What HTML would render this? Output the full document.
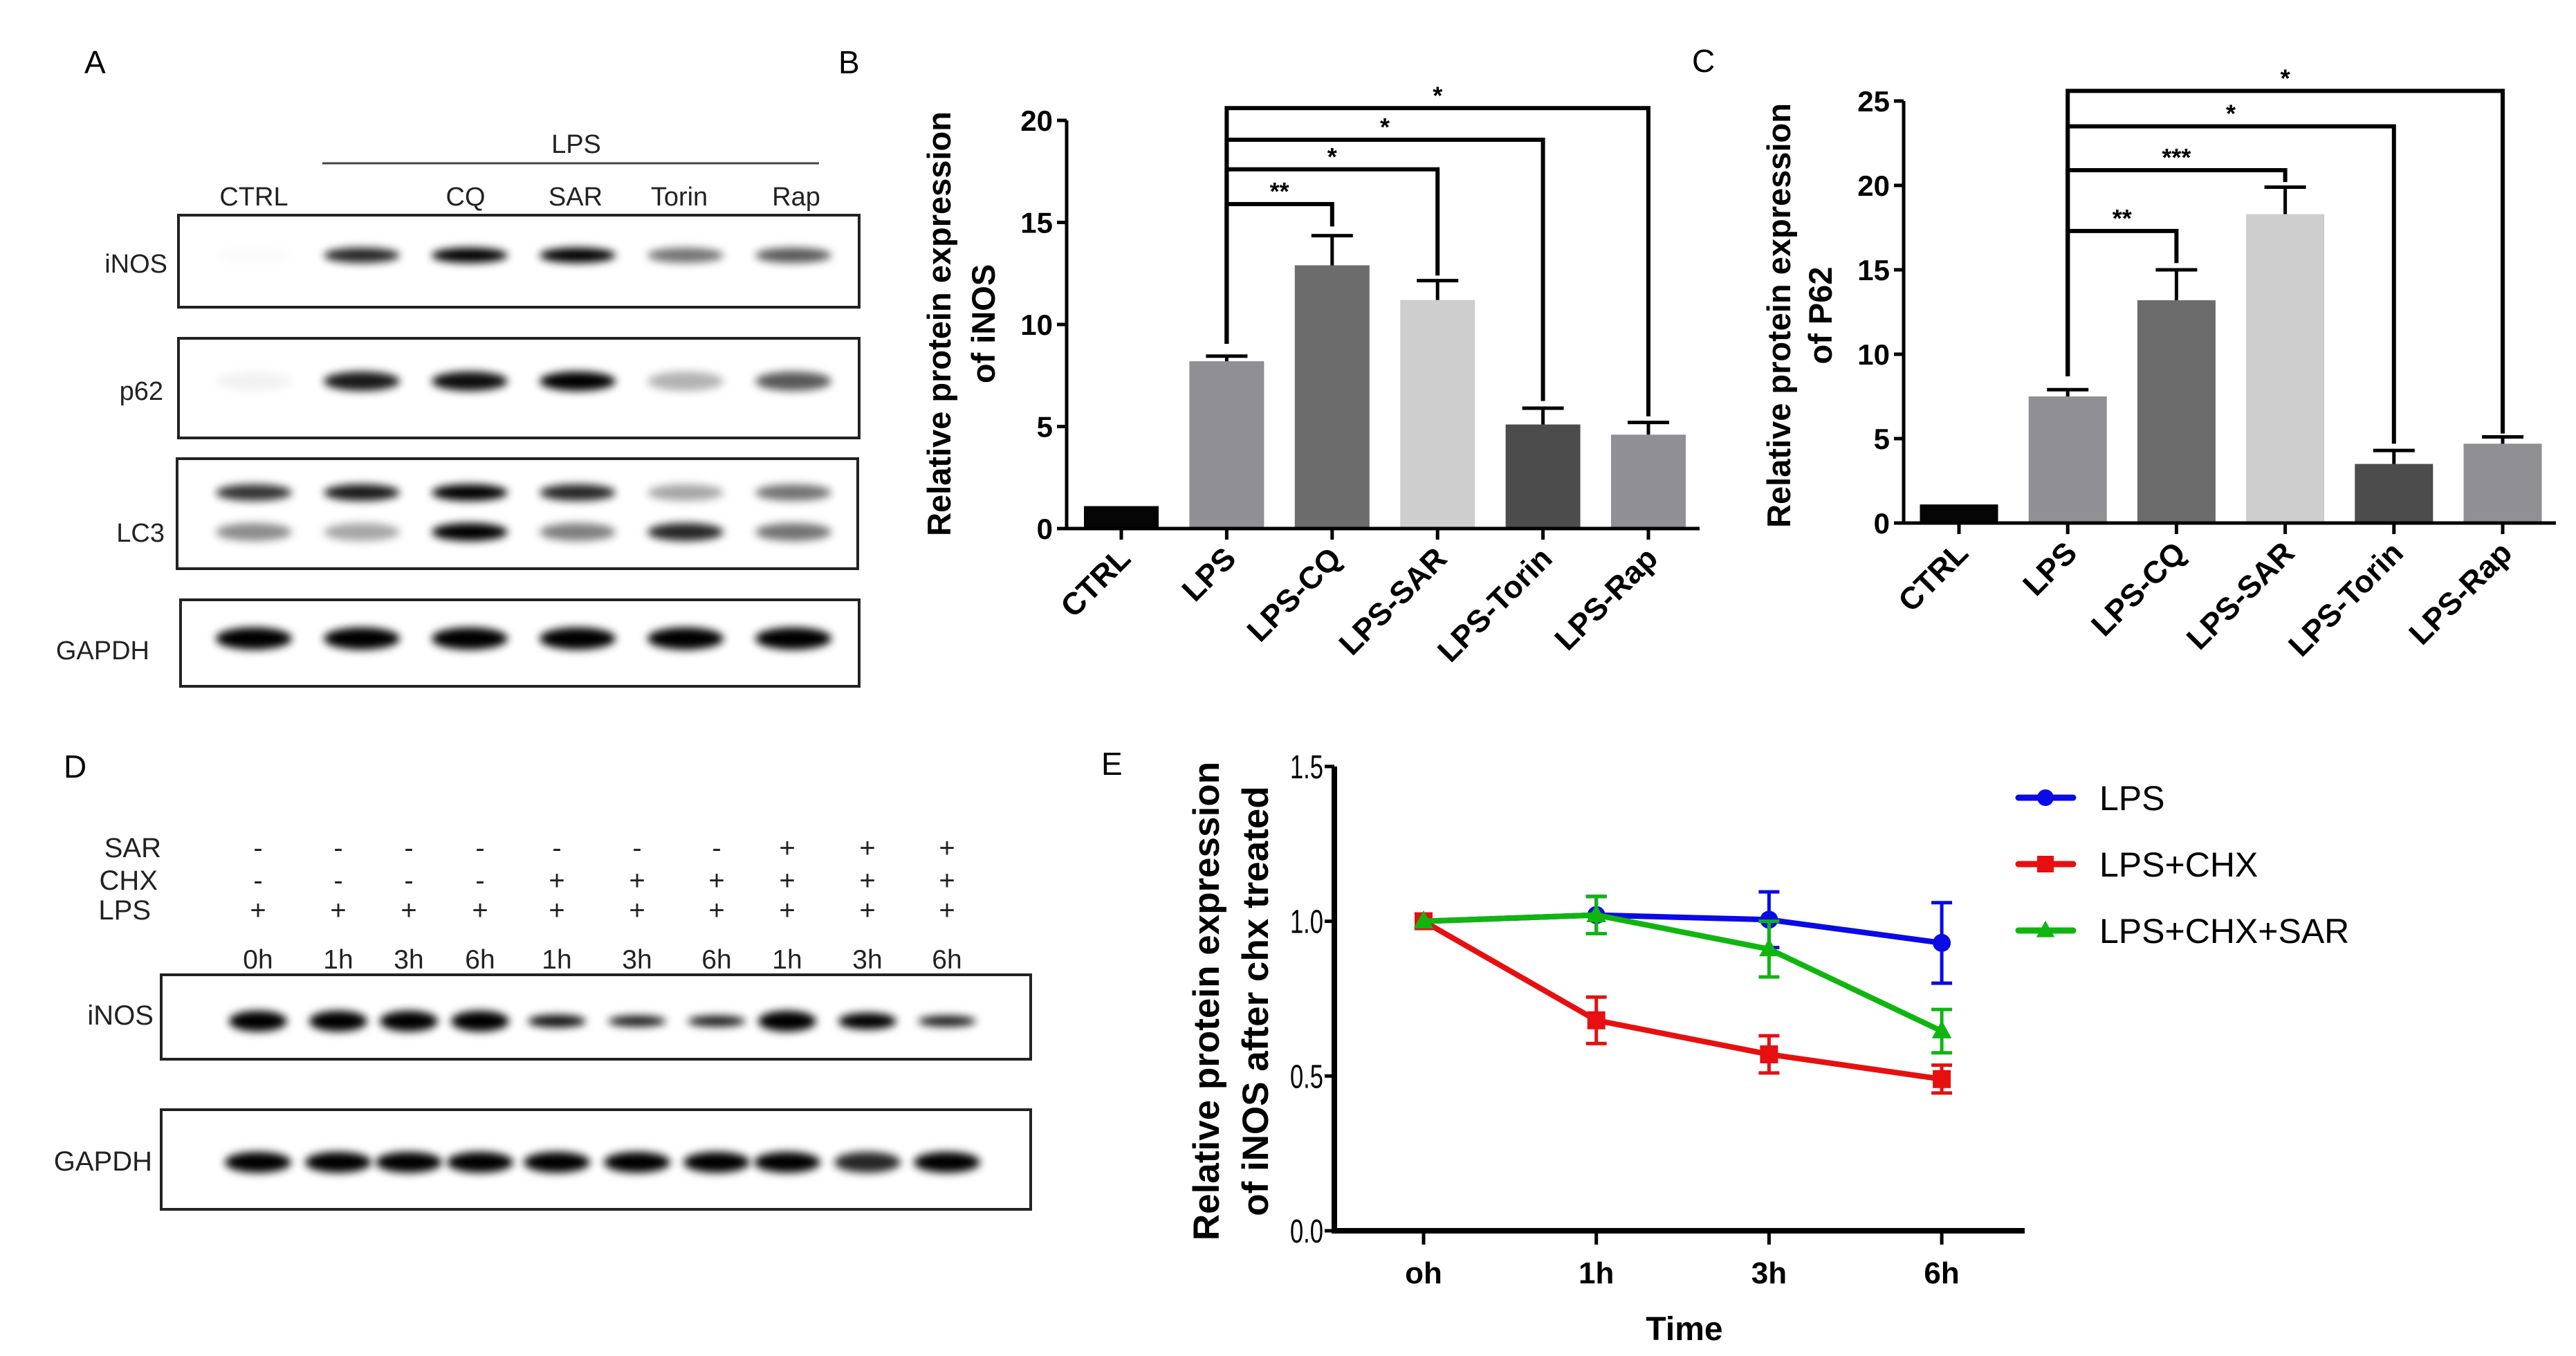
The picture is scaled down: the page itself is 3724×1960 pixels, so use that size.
<!DOCTYPE html>
<html><head><meta charset="utf-8"><style>
html,body{margin:0;padding:0;background:#fff;}
svg{display:block;}
text{font-family:"Liberation Sans",Arial,sans-serif;}
</style></head><body>
<svg id="fig" xmlns="http://www.w3.org/2000/svg" width="3724" height="1960" viewBox="0 0 3724 1960">
<defs>
<filter id="blur" x="-50%" y="-100%" width="200%" height="300%"><feGaussianBlur stdDeviation="6"/></filter>
</defs>
<rect x="0" y="0" width="3724" height="1960" fill="#fff"/>
<text x="122" y="106" font-size="46">A</text>
<text x="1212" y="106" font-size="46">B</text>
<text x="2446" y="104" font-size="46">C</text>
<text x="92" y="1124" font-size="46">D</text>
<text x="1592" y="1120" font-size="46">E</text>

<g font-size="38" text-anchor="middle" fill="#222">
<text x="833" y="221">LPS</text>
<line x1="466" y1="236" x2="1184" y2="236" stroke="#444" stroke-width="3"/>
<text x="367" y="297">CTRL</text>
<text x="673" y="297">CQ</text>
<text x="832" y="297">SAR</text>
<text x="982" y="297">Torin</text>
<text x="1151" y="297">Rap</text>
</g>
<g font-size="38" text-anchor="end" fill="#222">
<text x="242" y="394">iNOS</text>
<text x="236" y="578">p62</text>
<text x="238" y="783">LC3</text>
<text x="216" y="953">GAPDH</text>
</g>
<g id="blotA"></g>

<g font-size="40" fill="#222">
<text x="233" y="1239" text-anchor="end">SAR</text>
<text x="228" y="1286" text-anchor="end">CHX</text>
<text x="218" y="1329" text-anchor="end">LPS</text>
<text x="222" y="1481" text-anchor="end">iNOS</text>
<text x="220" y="1692" text-anchor="end">GAPDH</text>
</g>
<g id="blotD"></g>

<g id="chartB"></g>
<g id="chartC"></g>
<g id="chartE"></g>
</svg>
<script>
const barCategories = ["CTRL","LPS","LPS-CQ","LPS-SAR","LPS-Torin","LPS-Rap"];
const barColors = ["#050505","#8f8f94","#6c6c6c","#cecece","#4c4c4c","#8f8f94"];
const inosValues = [1.1, 8.2, 12.9, 11.2, 5.1, 4.6];
const inosErrors = [0, 0.25, 1.45, 0.95, 0.8, 0.6];
const inosTicks = [0,5,10,15,20];
const inosSigLabels = ["**","*","*","*"];
const inosSigTargets = [2,3,4,5];
const inosSigTop = [15.9,17.6,19.05,20.6];
const inosSigEnd = [14.8,12.4,6.25,5.5];
const inosSigStart = 9.05;

const p62Values = [1.1, 7.5, 13.2, 18.3, 3.5, 4.7];
const p62Errors = [0, 0.4, 1.8, 1.6, 0.8, 0.4];
const p62Ticks = [0,5,10,15,20,25];
const p62SigLabels = ["**","***","*","*"];
const p62SigTargets = [2,3,4,5];
const p62SigTop = [17.3,20.9,23.5,25.6];
const p62SigEnd = [15.4,20.2,4.7,5.3];
const p62SigStart = 8.7;

const timeCategories = ["oh","1h","3h","6h"];
const timeTicks = [0.0,0.5,1.0,1.5];
const seriesNames = ["LPS","LPS+CHX","LPS+CHX+SAR"];
const lpsValues = [1.0, 1.02, 1.005, 0.93];
const lpsErrors = [0, 0.06, 0.09, 0.13];
const chxValues = [1.0, 0.68, 0.57, 0.49];
const chxErrors = [0, 0.075, 0.06, 0.045];
const sarValues = [1.0, 1.02, 0.91, 0.645];
const sarErrors = [0, 0.06, 0.09, 0.07];

const blotALanes = ["CTRL","LPS","CQ","SAR","Torin","Rap"];
const blotAInos = [0.02,0.85,1,1,0.55,0.65];
const blotAP62 = [0.05,0.9,0.95,1,0.3,0.65];
const blotALc3Upper = [0.8,0.9,1,0.85,0.35,0.55];
const blotALc3Lower = [0.45,0.35,1,0.5,0.85,0.55];
const blotAGapdh = [1,1,1,1,1,1];

const blotDLanes = ["0h","1h","3h","6h","1h","3h","6h","1h","3h","6h"];
const blotDSar = ["-","-","-","-","-","-","-","+","+","+"];
const blotDChx = ["-","-","-","-","+","+","+","+","+","+"];
const blotDLps = ["+","+","+","+","+","+","+","+","+","+"];
const blotDInos = [1,1,1,1,0.95,0.9,0.9,1,1,0.9];
const blotDInosH = [30,30,30,30,18,16,16,30,24,16];
const blotDGapdh = [1,1,1,1,1,1,1,1,0.85,1];

const NS="http://www.w3.org/2000/svg";
function mk(tag, attrs, parent){const e=document.createElementNS(NS,tag);for(const k in attrs)e.setAttribute(k,attrs[k]);parent.appendChild(e);return e;}

(function(){
  const g=document.getElementById('blotA');
  const laneX=i=>367+i*156;
  const boxes=[[258,311,984,133,'inos-blot-box'],[258,489,984,144,'p62-blot-box'],[256,663,984,159,'lc3-blot-box'],[261,867,981,125,'gapdh-blot-box']];
  const rows=[[blotAInos,369,22,'inos-band'],[blotAP62,551,28,'p62-band'],[blotALc3Upper,712,24,'lc3-upper-band'],[blotALc3Lower,769,26,'lc3-lower-band'],[blotAGapdh,923,32,'gapdh-band']];
  rows.forEach(r=>{r[0].forEach((v,i)=>{
    const e=mk('ellipse',{cx:laneX(i),cy:r[1],rx:55,ry:r[2]/2,fill:'#000','fill-opacity':v,filter:'url(#blur)'},g);
    
    
  });});
  boxes.forEach(b=>{const e=mk('rect',{x:b[0],y:b[1],width:b[2],height:b[3],fill:'none',stroke:'#222','stroke-width':4},g);
    
    });
})();

(function(){
  const g=document.getElementById('blotD');
  const lx=[373,489,591,694,805,921,1036,1138,1254,1369];
  blotDLanes.forEach((t,i)=>{
    const rowsTxt=[[blotDSar[i],1239],[blotDChx[i],1286],[blotDLps[i],1329]];
    rowsTxt.forEach(r=>{const e=mk('text',{x:lx[i],y:r[1],'font-size':40,'text-anchor':'middle',fill:'#222'},g);e.textContent=r[0];
      
      });
    const tl=mk('text',{x:lx[i],y:1400,'font-size':39,'text-anchor':'middle',fill:'#222'},g);tl.textContent=t;
    
    
    const b=mk('ellipse',{cx:lx[i],cy:1476,rx:42,ry:blotDInosH[i]/2,fill:'#000','fill-opacity':blotDInos[i],filter:'url(#blur)'},g);
    
    
    const c=mk('ellipse',{cx:lx[i],cy:1680,rx:48,ry:15,fill:'#000','fill-opacity':blotDGapdh[i],filter:'url(#blur)'},g);
    
    
  });
  [[233,1409,1257,122,'inos-blot-box'],[233,1604,1257,144,'gapdh-blot-box']].forEach(b=>{
    const e=mk('rect',{x:b[0],y:b[1],width:b[2],height:b[3],fill:'none',stroke:'#222','stroke-width':4},g);
    
    });
})();

function barChart(gid,cfg){
  const g=document.getElementById(gid);
  const y=v=>cfg.y0-v*cfg.ppu;
  const x=i=>cfg.x0+cfg.first+i*cfg.step;
  const ymax=cfg.ticks[cfg.ticks.length-1];
  cfg.values.forEach((v,i)=>{
    const r=mk('rect',{x:x(i)-cfg.bw/2,y:y(v),width:cfg.bw,height:cfg.y0-y(v),fill:barColors[i]},g);
    
    
    if(cfg.errors[i]>0){
      const e=mk('path',{d:`M${x(i)},${y(v)} V${y(v+cfg.errors[i])} M${x(i)-30},${y(v+cfg.errors[i])} H${x(i)+30}`,stroke:'#000','stroke-width':5,fill:'none'},g);
      
      
    }
  });
  const ax=mk('path',{d:`M${cfg.x0},${y(ymax)} V${cfg.y0} H${cfg.xEnd}`,stroke:'#000','stroke-width':5,fill:'none'},g);
  
  
  cfg.ticks.forEach(t=>{
    const tk=mk('line',{x1:cfg.x0-14,x2:cfg.x0,y1:y(t),y2:y(t),stroke:'#000','stroke-width':5},g);
    
    
    const tl=mk('text',{x:cfg.x0-20,y:y(t)+15,'font-size':42,'font-weight':'bold','text-anchor':'end'},g);
    tl.textContent=t;
    
    
  });
  barCategories.forEach((c,i)=>{
    const tk=mk('line',{x1:x(i),x2:x(i),y1:cfg.y0,y2:cfg.y0+16,stroke:'#000','stroke-width':5},g);
    
    
    const tl=mk('text',{x:0,y:0,'font-size':45,'font-weight':'bold','text-anchor':'end',transform:`translate(${x(i)+16},${cfg.y0+46}) rotate(-45)`},g);
    tl.textContent=c;
    
    
  });
  const sx=x(1);
  cfg.sigTargets.forEach((ti,k)=>{
    const p=mk('path',{d:`M${sx},${y(cfg.sigStart)} V${y(cfg.sigTop[k])} H${x(ti)} V${y(cfg.sigEnd[k])}`,stroke:'#000','stroke-width':6,fill:'none'},g);
    
    
    const s=mk('text',{x:(sx+x(ti))/2,y:y(cfg.sigTop[k])-6,'font-size':36,'font-weight':'bold','text-anchor':'middle'},g);
    s.textContent=cfg.sigLabels[k];
    
    
  });
  const t1=mk('text',{x:0,y:0,'font-size':47,'font-weight':'bold','text-anchor':'middle',transform:`translate(${cfg.tx1},${cfg.ty}) rotate(-90)`},g);
  t1.textContent='Relative protein expression';
  
  
  const t2=mk('text',{x:0,y:0,'font-size':47,'font-weight':'bold','text-anchor':'middle',transform:`translate(${cfg.tx2},${cfg.ty}) rotate(-90)`},g);
  t2.textContent=cfg.title2;
  
  
}
barChart('chartB',{x0:1542,y0:764,ppu:29.5,xEnd:2457,first:79,step:152.4,bw:108,values:inosValues,errors:inosErrors,ticks:inosTicks,
  sigLabels:inosSigLabels,sigTargets:inosSigTargets,sigTop:inosSigTop,sigEnd:inosSigEnd,sigStart:inosSigStart,tx1:1374,tx2:1438,ty:468,title2:'of iNOS'});
barChart('chartC',{x0:2752,y0:756,ppu:24.4,xEnd:3695,first:80,step:157.2,bw:113,values:p62Values,errors:p62Errors,ticks:p62Ticks,
  sigLabels:p62SigLabels,sigTargets:p62SigTargets,sigTop:p62SigTop,sigEnd:p62SigEnd,sigStart:p62SigStart,tx1:2588,tx2:2648,ty:456,title2:'of P62'});

(function(){
  const g=document.getElementById('chartE');
  const X0=1929,Y0=1779,PPU=447.4,XEND=2927;
  const y=v=>Y0-v*PPU;
  const x=i=>2058+i*249.7;
  const series=[[lpsValues,lpsErrors,'#0a0ae6','circle'],[chxValues,chxErrors,'#e61010','square'],[sarValues,sarErrors,'#10b510','triangle']];
  const ax=mk('path',{d:`M${X0},${y(1.5)} V${Y0} H${XEND}`,stroke:'#000','stroke-width':8,fill:'none'},g);
  
  
  timeTicks.forEach(t=>{
    const tk=mk('line',{x1:X0-14,x2:X0,y1:y(t),y2:y(t),stroke:'#000','stroke-width':5},g);
    
    
    const tl=mk('text',{x:X0-16,y:y(t)+17,'font-size':48,'text-anchor':'end','font-family':'Liberation Serif, serif',transform:`translate(${X0-16},${y(t)}) scale(0.72,1) translate(${-(X0-16)},${-y(t)})`},g);
    tl.textContent=t.toFixed(1);
    
    
  });
  timeCategories.forEach((c,i)=>{
    const tk=mk('line',{x1:x(i),x2:x(i),y1:Y0,y2:Y0+20,stroke:'#000','stroke-width':5},g);
    
    
    const tl=mk('text',{x:x(i),y:1855,'font-size':44,'font-weight':'bold','text-anchor':'middle'},g);
    tl.textContent=c;
    
    
  });
  const xt=mk('text',{x:2435,y:1937,'font-size':48,'font-weight':'bold','text-anchor':'middle'},g);
  xt.textContent='Time';
  
  
  const t1=mk('text',{x:0,y:0,'font-size':53,'font-weight':'bold','text-anchor':'middle',transform:`translate(1762,1447) rotate(-90)`},g);
  t1.textContent='Relative protein expression';
  
  
  const t2=mk('text',{x:0,y:0,'font-size':53,'font-weight':'bold','text-anchor':'middle',transform:`translate(1833,1447) rotate(-90)`},g);
  t2.textContent='of iNOS after chx treated';
  
  
  function marker(kind,cx,cy,col,s){
    if(kind==='circle') return mk('circle',{cx:cx,cy:cy,r:s,fill:col},g);
    if(kind==='square') return mk('rect',{x:cx-s,y:cy-s,width:2*s,height:2*s,fill:col},g);
    return mk('polygon',{points:`${cx},${cy-s*1.2} ${cx+s*1.1},${cy+s*0.8} ${cx-s*1.1},${cy+s*0.8}`,fill:col},g);
  }
  series.forEach((s,si)=>{
    const pts=s[0].map((v,i)=>`${x(i)},${y(v)}`).join(' ');
    const pl=mk('polyline',{points:pts,stroke:s[2],'stroke-width':8,fill:'none'},g);
    
    
    s[0].forEach((v,i)=>{
      if(s[1][i]>0){
        const e=mk('path',{d:`M${x(i)},${y(v-s[1][i])} V${y(v+s[1][i])} M${x(i)-15},${y(v-s[1][i])} H${x(i)+15} M${x(i)-15},${y(v+s[1][i])} H${x(i)+15}`,stroke:s[2],'stroke-width':5,fill:'none'},g);
        
        
      }
      const m=marker(s[3],x(i),y(v),s[2],13);
      
      
    });
    const ly=1153+si*96;
    const ll=mk('line',{x1:2918,x2:2997,y1:ly,y2:ly,stroke:s[2],'stroke-width':9,'stroke-linecap':'round'},g);
    
    
    const lm=marker(s[3],2957,ly,s[2],12);
    
    
    const lt=mk('text',{x:3035,y:ly+18,'font-size':50},g);
    lt.textContent=seriesNames[si];
    
    
  });
})();
</script>
</body></html>
